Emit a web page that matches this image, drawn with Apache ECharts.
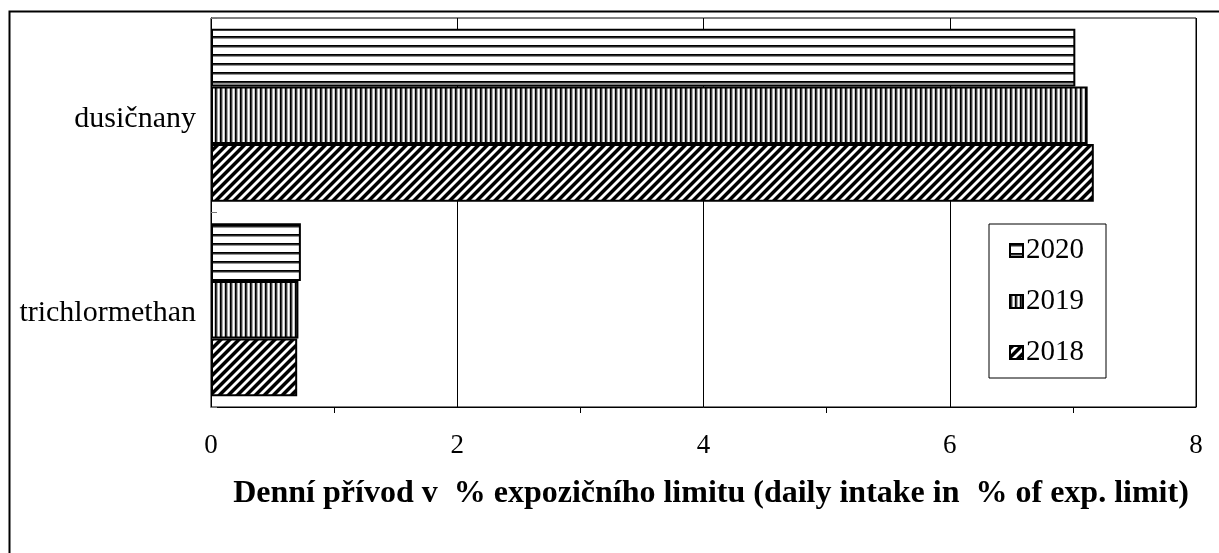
<!DOCTYPE html>
<html>
<head>
<meta charset="utf-8">
<script src="https://cdn.jsdelivr.net/npm/echarts@6/dist/echarts.min.js"></script>
<style>
  html, body { margin: 0; padding: 0; background: #fff; }
  #chart { width: 1219px; height: 553px; }
</style>
</head>
<body>
<div id="chart"></div>
<script>
// Categories listed bottom-to-top (ECharts category axis grows upward)
const categories = ['trichlormethan', 'dusičnany'];
// Series order: the first series sits at the top of each category band
const years = ['2020', '2019', '2018'];
const values2018 = [0.70, 7.17];
const values2019 = [0.71, 7.12];
const values2020 = [0.73, 7.02];
const xTicks = [0, 2, 4, 6, 8];

const FONT = '"Liberation Serif", "Times New Roman", serif';

// Hatch fills drawn into small tiles and repeated
function tile(w, h, shade) {
  const c = document.createElement('canvas');
  c.width = w; c.height = h;
  const g = c.getContext('2d');
  const img = g.createImageData(w, h);
  for (let y = 0; y < h; y++) {
    for (let x = 0; x < w; x++) {
      const v = shade(x, y);
      const i = (y * w + x) * 4;
      img.data[i] = img.data[i + 1] = img.data[i + 2] = v;
      img.data[i + 3] = 255;
    }
  }
  g.putImageData(img, 0, 0);
  return { image: c, repeat: 'repeat' };
}

// horizontal lines: dark row, grey row, then white
const hatchHorizontal = tile(9, 9, (x, y) => (y === 0 ? 0 : y === 1 ? 40 : y === 2 ? 150 : 255));
// vertical lines, tighter spacing
const hatchVertical = tile(5, 5, (x) => (x === 0 ? 0 : x === 1 ? 60 : x === 2 ? 170 : x === 3 ? 255 : 200));
// forward diagonal stripes (constant x + y)
const hatchDiagonal = tile(9, 9, (x, y) => {
  const p = (x + y) % 9;
  return p < 4 ? 0 : p === 4 ? 120 : p === 8 ? 140 : 255;
});

const fills = { '2018': hatchDiagonal, '2019': hatchVertical, '2020': hatchHorizontal };
const dataByYear = { '2018': values2018, '2019': values2019, '2020': values2020 };

const chart = echarts.init(document.getElementById('chart'), null, { renderer: 'canvas' });

chart.setOption({
  animation: false,
  backgroundColor: '#fff',
  graphic: [{
    type: 'rect',
    left: 7, top: 9,
    shape: { width: 1400, height: 800 },
    style: { fill: 'none', stroke: '#000', lineWidth: 2 },
    silent: true,
    z: -10
  }],
  title: {
    text: 'Denní přívod v  % expozičního limitu (daily intake in  % of exp. limit)',
    left: 706,
    top: 473,
    textAlign: 'center',
    textStyle: { fontFamily: FONT, fontSize: 32, fontWeight: 'bold', color: '#000' }
  },
  legend: {
    orient: 'vertical',
    data: ['2020', '2019', '2018'],
    left: 989,
    top: 224,
    padding: [12, 22, 11, 20],
    itemGap: 22,
    itemWidth: 13,
    itemHeight: 13,
    icon: 'rect',
    borderColor: '#000',
    borderWidth: 1,
    backgroundColor: '#fff',
    textStyle: { fontFamily: FONT, fontSize: 29, color: '#000', padding: [0, 0, 0, -2] }
  },
  grid: {
    left: 211, right: 23, top: 18, bottom: 146,
    show: true, borderColor: '#000', borderWidth: 1,
    containLabel: false
  },
  xAxis: {
    type: 'value',
    min: xTicks[0],
    max: xTicks[xTicks.length - 1],
    interval: 2,
    axisLine: { show: true, lineStyle: { color: '#000', width: 1 } },
    axisTick: { show: false },
    minorTick: { show: true, splitNumber: 2, length: 6, lineStyle: { color: '#000' } },
    splitLine: { show: true, lineStyle: { color: '#000', width: 1 } },
    axisLabel: { margin: 25, fontFamily: FONT, fontSize: 27, color: '#000' }
  },
  yAxis: {
    type: 'category',
    data: categories,
    axisLine: { show: true, lineStyle: { color: '#000' } },
    axisTick: { show: true, inside: true, length: 6, lineStyle: { color: '#777' } },
    axisLabel: {
      margin: 15,
      formatter: '{c|{value}}',
      rich: {
        c: { fontFamily: FONT, fontSize: 30, color: '#000', padding: [7, 0, 0, 0] }
      }
    }
  },
  series: years.map(y => ({
    name: y,
    type: 'bar',
    data: dataByYear[y],
    barGap: '0%',
    barCategoryGap: '11%',
    itemStyle: { color: fills[y], borderColor: '#000', borderWidth: 2 }
  }))
});
</script>
</body>
</html>
